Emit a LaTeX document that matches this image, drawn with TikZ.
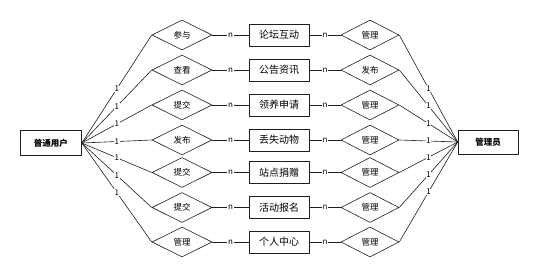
\documentclass[tikz,border=0pt]{standalone}
\usepackage{fontspec}
\setmainfont{Noto Sans CJK SC}
\usetikzlibrary{shapes.geometric}
\newcommand{\Unit}{1pt}
\newcommand{\Edge}{0.6pt}
\newcommand{\LeftX}{182}
\newcommand{\MidX}{279}
\newcommand{\RightX}{370}
\definecolor{ink}{HTML}{1E1E1E}

\begin{document}
\begin{tikzpicture}[x=\Unit,y=-\Unit, line join=round,
  entity/.style={draw=ink,line width=\Edge,inner sep=0pt,minimum width=60pt,
    minimum height=22pt,font=\fontsize{10}{12}\selectfont},
  actor/.style={entity,minimum height=24pt,font=\fontsize{8.5}{10}\selectfont\bfseries},
  relation/.style={draw=ink,line width=\Edge,diamond,aspect=2,inner sep=0pt,
    minimum width=60pt,minimum height=30pt,font=\fontsize{8.5}{10}\selectfont},
  link/.style={draw=ink,line width=\Edge},
  card/.style={fill=white,inner sep=0.6pt,font=\fontsize{8}{9}\selectfont}]

  \useasboundingbox (0,0) rectangle (539,277);

  % ---- the two actors ----------------------------------------------------
  \node[actor,minimum width=61pt,minimum height=25pt] (user) at (51,143) {普通用户};
  \node[actor] (admin) at (488,142) {管理员};

  % ---- one row per module: user side, module, admin side -----------------
  \foreach \i/\y/\a/\m/\b in {1/35/参与/论坛互动/管理, 2/70/查看/公告资讯/发布,
      3/105/提交/领养申请/管理, 4/140/发布/丢失动物/管理, 5/172.5/提交/站点捐赠/管理,
      6/207.5/提交/活动报名/管理, 7/242/管理/个人中心/管理} {
    \node[relation] (ra\i) at (\LeftX,\y) {\a};
    \node[entity] (en\i) at (\MidX,\y) {\m};
    \node[relation,minimum width=58pt] (rb\i) at (\RightX,\y) {\b};
    \draw[link] (user.east) -- node[card] {1} (ra\i.west);
    \draw[link] (ra\i.east) -- node[card] {n} (en\i.west);
    \draw[link] (en\i.east) -- node[card] {n} (rb\i.west);
    \draw[link] (rb\i.east) -- node[card] {1} (admin.west);
  }

\end{tikzpicture}
\end{document}
